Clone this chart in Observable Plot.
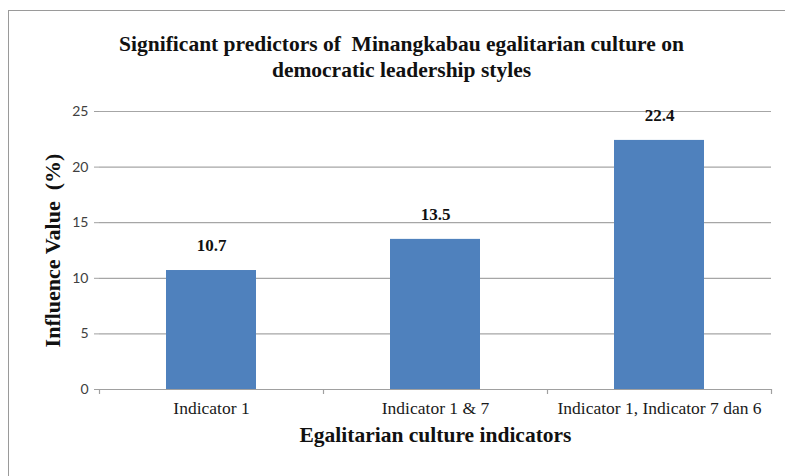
<!DOCTYPE html>
<html>
<head>
<meta charset="utf-8">
<script src="https://cdn.jsdelivr.net/npm/d3@7"></script>
<script src="https://cdn.jsdelivr.net/npm/@observablehq/plot@0.6"></script>
<style>
  html, body { margin: 0; padding: 0; background: #fff; }
  #wrap { position: relative; width: 785px; height: 476px; overflow: hidden; }
  #border { position: absolute; left: 8px; top: 10px; width: 900px; height: 600px; border: 1.5px solid #9a9a9a; box-sizing: border-box; }
  #chart { position: absolute; left: 0; top: 0; }
</style>
</head>
<body>
<div id="wrap"><div id="border"></div><div id="chart"></div></div>
<script>
const categories = ["Indicator 1", "Indicator 1 & 7", "Indicator 1, Indicator 7 dan 6"];
const values = [10.7, 13.5, 22.4];
const yTicks = [0, 5, 10, 15, 20, 25];
const titleLines = ["Significant predictors of  Minangkabau egalitarian culture on", "democratic leadership styles"];
const yLabel = "Influence Value  (%)";
const xLabel = "Egalitarian culture indicators";

const data = categories.map((c, i) => ({category: c, value: values[i]}));

const W = 785, H = 476;
const mL = 99, mR = 14, mT = 111, mB = 87;
const band = (W - mL - mR) / categories.length;
const plotH = H - mT - mB;
const serif = "'Liberation Serif', 'Times New Roman', serif";

const chart = Plot.plot({
  width: W,
  height: H,
  marginLeft: mL,
  marginRight: mR,
  marginTop: mT,
  marginBottom: mB,
  style: {fontFamily: serif, background: "transparent", overflow: "visible"},
  x: {domain: categories, paddingInner: 0.6, paddingOuter: 0.3, label: null, axis: null},
  y: {domain: [0, 25], ticks: yTicks, label: null, axis: null},
  marks: [
    Plot.gridY(yTicks, {stroke: "#a6a6a6", strokeOpacity: 1, strokeWidth: 1.2}),
    Plot.barY(data, {x: "category", y: "value", fill: "#4f81bd"}),
    Plot.ruleY([0], {stroke: "#a0a0a0", strokeWidth: 1.2}),
    Plot.ruleX([0], {frameAnchor: "left", insetBottom: -5, stroke: "#a0a0a0", strokeWidth: 1.2}),
    Plot.axisY(yTicks, {
      tickSize: 5, tickPadding: 6, stroke: "#a0a0a0",
      fontFamily: "Lato, 'Open Sans', sans-serif", fontSize: 14, fill: "#404040",
      label: null
    }),
    // category boundary ticks
    Plot.ruleX(categories, {x: d => d, dx: -band / 2, insetTop: plotH, insetBottom: -5, stroke: "#a0a0a0", strokeWidth: 1.2}),
    Plot.ruleX([categories[categories.length - 1]], {x: d => d, dx: band / 2, insetTop: plotH, insetBottom: -5, stroke: "#a0a0a0", strokeWidth: 1.2}),
    Plot.axisX({tickSize: 0, tickPadding: 12, fontFamily: serif, fontSize: 17.5, fill: "#1a1a1a", label: null}),
    Plot.text(data, {x: "category", y: "value", text: d => d.value.toFixed(1), dy: -25, fontWeight: "bold", fontSize: 17, fontFamily: serif, fill: "#111"}),
    Plot.text([titleLines.join("\n")], {frameAnchor: "top", dx: -34, dy: -80, lineHeight: 1.25, fontSize: 21.5, fontWeight: "bold", fontFamily: serif, fill: "#111", textAnchor: "middle", lineAnchor: "top"}),
    Plot.text([yLabel], {frameAnchor: "left", dx: -47, rotate: -90, textAnchor: "middle", fontSize: 22, fontWeight: "bold", fontFamily: serif, fill: "#111"}),
    Plot.text([xLabel], {frameAnchor: "bottom", dx: 0, dy: 52, textAnchor: "middle", fontSize: 21.5, fontWeight: "bold", fontFamily: serif, fill: "#111"})
  ]
});
document.getElementById("chart").appendChild(chart);
</script>
</body>
</html>
